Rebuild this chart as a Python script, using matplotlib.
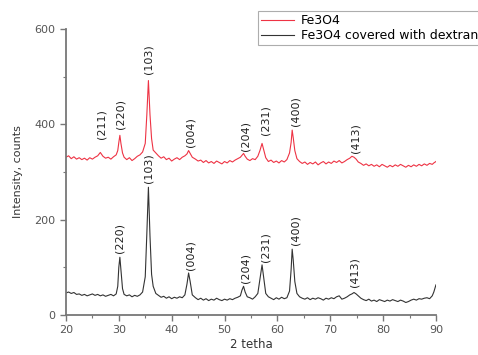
import matplotlib
matplotlib.use("Agg")
import matplotlib.pyplot as plt
from matplotlib.ticker import MultipleLocator

# 2-theta sampling (degrees)
two_theta = [
    20.0, 20.5, 21.0, 21.5, 22.0, 22.5, 23.0, 23.5, 24.0, 24.5, 25.0, 25.5, 26.0, 26.5, 27.0, 27.5, 28.0, 28.5, 29.0, 29.5,
    29.8, 30.0, 30.2, 30.4, 30.7, 31.0,
    31.5, 32.0, 32.5, 33.0, 33.5, 34.0, 34.5, 35.0,
    35.3, 35.6, 35.9, 36.2, 36.5,
    37.0, 37.5, 38.0, 38.5, 39.0, 39.5, 40.0, 40.5, 41.0, 41.5, 42.0, 42.5,
    42.9, 43.2, 43.5, 43.9,
    44.5, 45.0, 45.5, 46.0, 46.5, 47.0, 47.5, 48.0, 48.5, 49.0, 49.5, 50.0, 50.5, 51.0, 51.5, 52.0, 52.5, 53.0,
    53.3, 53.6, 53.9, 54.3,
    54.8, 55.3, 55.8, 56.3, 56.7,
    57.1, 57.4, 57.8,
    58.3, 58.8, 59.3, 59.8, 60.3, 60.8, 61.3, 61.8, 62.3,
    62.6, 62.8, 63.0, 63.3, 63.7,
    64.2, 64.7, 65.2, 65.7, 66.2, 66.7, 67.2, 67.7, 68.2, 68.7, 69.2, 69.7, 70.2, 70.7, 71.2, 71.7, 72.2, 72.7, 73.2, 73.7,
    74.1, 74.5, 74.9, 75.3,
    75.8, 76.3, 76.8, 77.3, 77.8, 78.3, 78.8, 79.3, 79.8, 80.3, 80.8, 81.3, 81.8, 82.3, 82.8, 83.3, 83.8, 84.3, 84.8, 85.3,
    85.8, 86.3, 86.8, 87.3, 87.8, 88.3, 88.8, 89.3, 89.6, 90.0,
]

# Fe3O4 (red, upper)
fe3o4 = [
    331, 334, 328, 332, 327, 330, 326, 329, 325, 330, 327, 331, 334, 341, 333, 329, 331, 327, 332, 336,
    345, 362, 377, 360, 340, 331,
    326, 330, 324, 328, 333, 336, 342, 360,
    420, 492, 420, 370, 346,
    340, 334, 329, 332, 326, 329, 323, 327, 330, 326, 331, 334,
    338, 345, 339, 331,
    327, 323, 325, 320, 324, 319, 322, 318, 323, 320, 317, 322, 319, 324, 321, 325, 328, 331,
    335, 339, 333, 327,
    324, 328, 326, 333, 345,
    360, 347, 330,
    322, 325, 320, 323, 319, 324, 321, 326, 340,
    362, 388, 372, 345, 328,
    322, 318, 321, 316, 320, 317, 321, 315, 319, 322, 317, 321, 318, 323, 320, 324, 319, 322, 326, 329,
    333, 331, 327, 321,
    318, 314, 317, 313, 316, 312, 315, 311, 316, 313, 310, 314, 311, 315, 312, 316, 313, 310, 314, 311,
    315, 312, 316, 313, 317, 314, 318, 316, 319, 322,
]

# Fe3O4 covered with dextran (black, lower)
fe3o4_dextran = [
    46, 48, 45, 47, 43, 44, 41, 43, 40, 42, 44, 41, 43, 40, 42, 39, 41, 43, 40, 44,
    60, 100, 121, 95, 55, 43,
    40, 42, 38, 41, 39, 42, 48, 80,
    170, 268, 165, 85, 60,
    45, 41, 37, 39, 35, 38, 34, 37, 35, 38, 36, 42,
    65, 88, 70, 42,
    36, 32, 35, 31, 34, 30, 33, 31, 35, 32, 30, 33, 31, 34, 32, 35, 37, 40,
    52, 60, 48, 38,
    36, 33, 38, 45, 75,
    105, 80, 45,
    38, 35, 32, 36, 33, 37, 34, 36, 50,
    95, 138, 115, 70, 45,
    38, 35, 33, 36, 32, 35, 33, 36, 34, 31, 35, 33, 36, 34, 38, 40, 33, 35, 38, 42,
    44, 47, 44, 40,
    35, 32, 30, 33, 29, 31, 28, 32, 30, 28, 31, 29, 32, 30, 28, 31, 29, 26, 28, 31,
    33, 31, 34, 33, 35, 36, 34, 40, 48, 63,
]

# Peak labels: (label, 2theta position, label base intensity)
red_labels = ["(211)", "(220)", "(103)", "(004)", "(204)", "(231)", "(400)", "(413)"]
red_label_x = [26.8, 30.4, 35.7, 43.6, 54.0, 57.8, 63.4, 74.8]
red_label_y = [370, 390, 505, 352, 344, 378, 396, 340]

black_labels = ["(220)", "(103)", "(004)", "(204)", "(231)", "(400)", "(413)"]
black_label_x = [30.2, 35.7, 43.5, 54.0, 57.8, 63.4, 74.5]
black_label_y = [130, 277, 94, 67, 110, 146, 58]

fig = plt.figure(figsize=(4.78, 3.55), dpi=100)
ax = fig.add_axes([0.138, 0.113, 0.774, 0.805])

ax.plot(two_theta, fe3o4, color="#ee3344", lw=0.8, label="Fe3O4")
ax.plot(two_theta, fe3o4_dextran, color="#333333", lw=0.8, label="Fe3O4 covered with dextran")

for t, x, y in zip(red_labels, red_label_x, red_label_y):
    ax.text(x, y, t, rotation=90, ha="center", va="bottom", fontsize=8, color="#222222")
for t, x, y in zip(black_labels, black_label_x, black_label_y):
    ax.text(x, y, t, rotation=90, ha="center", va="bottom", fontsize=8, color="#222222")

ax.set_xlim(20, 90)
ax.set_ylim(0, 600)
ax.xaxis.set_major_locator(MultipleLocator(10))
ax.xaxis.set_minor_locator(MultipleLocator(5))
ax.yaxis.set_major_locator(MultipleLocator(200))
ax.yaxis.set_minor_locator(MultipleLocator(100))

for s in ["top", "right"]:
    ax.spines[s].set_visible(False)
for s in ["left", "bottom"]:
    ax.spines[s].set_color("#777777")
    ax.spines[s].set_linewidth(1.3)

ax.tick_params(which="major", direction="out", length=4, width=1.0, color="#777777",
               labelsize=8, labelcolor="#555555")
ax.tick_params(which="minor", direction="out", length=2.5, width=0.8, color="#777777")

ax.set_xlabel("2 tetha", fontsize=8.5, color="#333333", labelpad=2)
ax.set_ylabel("Intensity, counts", fontsize=8, color="#333333", labelpad=8)

leg = ax.legend(loc="upper left", bbox_to_anchor=(258 / 478, 1 - 11 / 355),
                bbox_transform=fig.transFigure, fontsize=9, frameon=True,
                fancybox=False, borderaxespad=0, handlelength=2.6,
                labelspacing=0.15, borderpad=0.25, handletextpad=0.6)
leg.get_frame().set_edgecolor("#999999")
leg.get_frame().set_linewidth(0.8)

fig.savefig("out.png", dpi=100)
